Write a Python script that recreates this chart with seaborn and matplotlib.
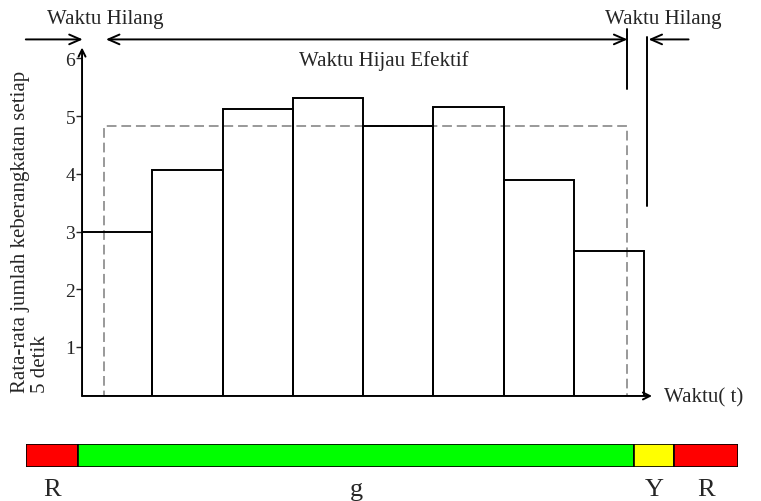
import matplotlib
matplotlib.use("Agg")
import matplotlib.pyplot as plt
import seaborn as sns
from matplotlib.patches import Rectangle

# data
intervals = ["1", "2", "3", "4", "5", "6", "7", "8"]
departures = [3.0, 4.06, 5.12, 5.31, 4.83, 5.15, 3.89, 2.66]
effective_rate = 4.83          # height of the dashed block
eff_start, eff_end = -0.19, 7.26   # effective green (interval units)
lost_end = 7.54                # end of the lost time after yellow
yticks = [1, 2, 3, 4, 5, 6]

phases = ["R", "g", "Y", "R"]
phase_len = [52, 556, 40, 64]
phase_colors = ["#ff0000", "#00ff00", "#ffff00", "#ff0000"]

sns.set_style("white")
plt.rcParams["font.family"] = ["Liberation Serif", "DejaVu Serif"]

fig = plt.figure(figsize=(7.61, 5.02), dpi=100)
ax = fig.add_axes([0.1078, 0.2092, 0.749, 0.6873])

# dashed block of the effective green, under the bars
ax.add_patch(Rectangle((eff_start, 0), eff_end - eff_start, effective_rate,
                       fill=False, edgecolor="#999999", linewidth=1.4,
                       linestyle=(0, (5, 2.5)), zorder=0.5))

sns.barplot(x=intervals, y=departures, width=1, fill=False, color="black",
            linewidth=1.4, ax=ax)
for p in ax.patches[1:]:
    p.set_edgecolor("black")
    p.set_zorder(2)

ax.set_xlim(-0.5, 7.61)
ax.set_ylim(0.15, 6.13)
ax.set_xticks([])
ax.set_yticks(yticks)
ax.set_yticklabels([str(t) for t in yticks], fontsize=14)
ax.tick_params(axis="y", direction="out", length=4, width=1, pad=1, left=True)
for s in ax.spines.values():
    s.set_visible(False)
ax.set_xlabel("")

# axes with small open arrow heads
head = "->,head_length=0.5,head_width=0.25"
ax.annotate("", xy=(0, 1.01), xytext=(0, 0), xycoords="axes fraction",
            arrowprops=dict(arrowstyle=head, lw=1.4, color="black",
                            shrinkA=0, shrinkB=0))
ax.annotate("", xy=(1, 0), xytext=(0, 0), xycoords="axes fraction",
            arrowprops=dict(arrowstyle=head, lw=1.4, color="black",
                            shrinkA=0, shrinkB=0))

ax.text(-1.23, 3.01, "Rata-rata jumlah keberangkatan setiap\n5 detik",
        rotation=90, fontsize=15, ha="center", va="center",
        multialignment="left", linespacing=1.1)
ax.text(7.78, 0.13, "Waktu( t)", fontsize=15, ha="left", va="center")

# time annotations above the plot
y_arr = 6.33
big = "->,head_length=0.8,head_width=0.35"
both = "<->,head_length=0.8,head_width=0.35"
ax.annotate("", xy=(-0.49, y_arr), xytext=(-1.30, y_arr), xycoords="data",
            annotation_clip=False,
            arrowprops=dict(arrowstyle=big, lw=1.4, color="black",
                            shrinkA=0, shrinkB=0))
ax.annotate("", xy=(eff_start + 0.03, y_arr), xytext=(eff_end, y_arr),
            xycoords="data", annotation_clip=False,
            arrowprops=dict(arrowstyle=both, lw=1.4, color="black",
                            shrinkA=0, shrinkB=0))
ax.annotate("", xy=(lost_end + 0.02, y_arr), xytext=(8.13, y_arr),
            xycoords="data", annotation_clip=False,
            arrowprops=dict(arrowstyle=big, lw=1.4, color="black",
                            shrinkA=0, shrinkB=0))
ax.plot([eff_end, eff_end], [6.51, 5.47], color="black", lw=1.4, clip_on=False)
ax.plot([lost_end, lost_end], [6.37, 3.44], color="black", lw=1.4, clip_on=False)

ax.text(-0.17, 6.69, "Waktu Hilang", fontsize=15, ha="center", va="center")
ax.text(7.77, 6.69, "Waktu Hilang", fontsize=15, ha="center", va="center")
ax.text(3.8, 5.98, "Waktu Hijau Efektif", fontsize=15, ha="center", va="center")

# signal phase bar
ax2 = fig.add_axes([0.0342, 0.0677, 0.9356, 0.0458])
left = 0
for name, w, c in zip(phases, phase_len, phase_colors):
    ax2.barh(0, w, left=left, height=1, color=c, edgecolor="black", linewidth=1.2)
    ax2.text(left + w / 2, -1.45, name, fontsize=19, ha="center", va="center")
    left += w
ax2.set_xlim(0, sum(phase_len))
ax2.set_ylim(-0.5, 0.5)
ax2.axis("off")

fig.savefig("out.png", dpi=100)
